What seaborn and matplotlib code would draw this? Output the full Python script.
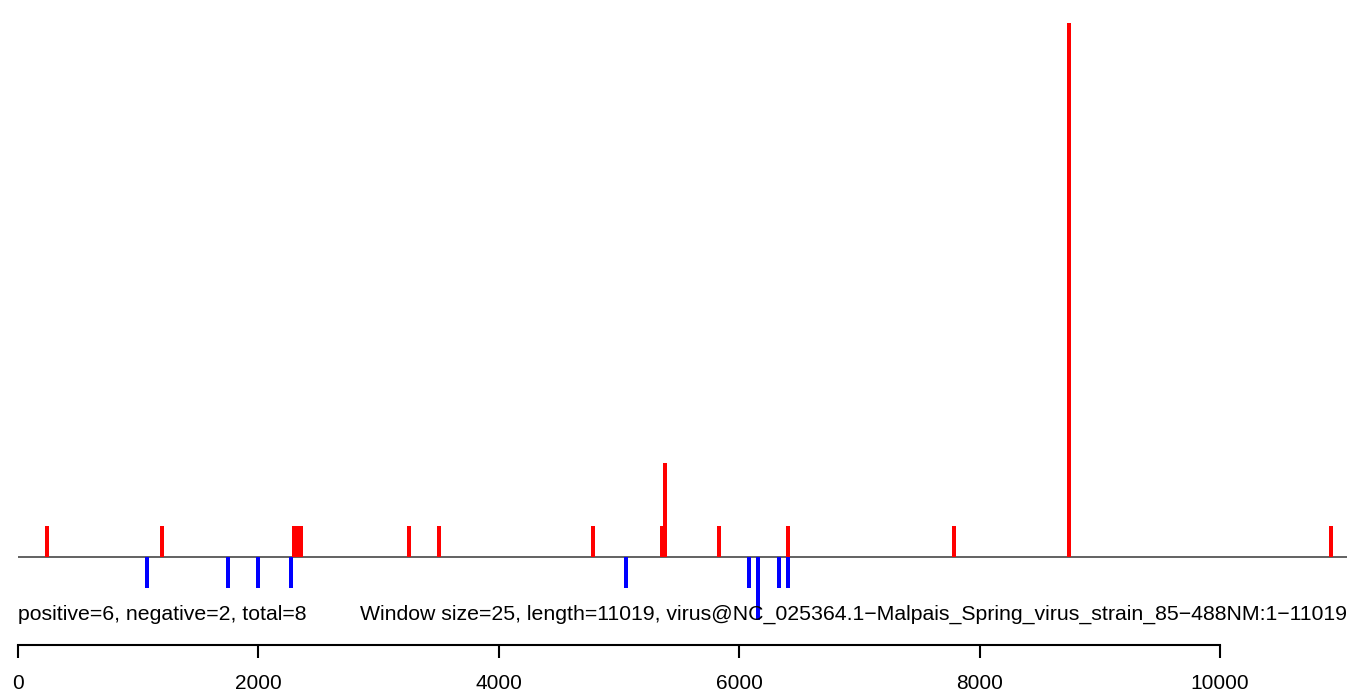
import matplotlib
matplotlib.use("Agg")
import matplotlib.pyplot as plt
import numpy as np
import pandas as pd
import seaborn as sns

# positions along the genome and window scores
pos_sites = [241, 1196, 2295, 2325, 2355, 3250, 3500, 4784, 5355, 5385, 5830, 6405, 7784, 8742, 10922]
pos_scores = [1, 1, 1, 1, 1, 1, 1, 1, 1, 3, 1, 1, 1, 17, 1]
neg_sites = [1071, 1747, 1994, 2268, 5055, 6082, 6154, 6331, 6405]
neg_scores = [-1, -1, -1, -1, -1, -1, -2, -1, -1]
tick_values = [0, 2000, 4000, 6000, 8000, 10000]

left_note = "positive=6, negative=2, total=8"
right_note = ("Window size=25, length=11019, "
              "virus@NC_025364.1\u2212Malpais_Spring_virus_strain_85\u2212488NM:1\u221211019")

df = pd.DataFrame({
    "site": pos_sites + neg_sites,
    "score": pos_scores + neg_scores,
    "strand": ["+"] * len(pos_sites) + ["-"] * len(neg_sites),
})

sns.set_theme(style="white")
plt.rcParams["font.family"] = ["Liberation Sans", "DejaVu Sans"]
plt.rcParams["text.color"] = "black"
plt.rcParams["xtick.color"] = "black"

W, H = 1350, 695
fig = plt.figure(figsize=(W / 100, H / 100), dpi=100)
ax = fig.add_axes([18 / W, 0, 1329 / W, 1])

# bar width in sequence units, converted to seaborn's native width unit
bar_w = 33
min_gap = np.diff(np.unique(df["site"])).min()
sns.barplot(data=df, x="site", y="score", hue="strand", native_scale=True,
            palette={"+": "#ff0000", "-": "#0000ff"}, saturation=1,
            width=bar_w / min_gap, dodge=False, errorbar=None,
            linewidth=0, legend=False, ax=ax)

ax.axhline(0, color="#555555", lw=1.3, zorder=0)

base_px, unit_px = 557, 31.4
ax.set_xlim(0, 11057)
ax.set_ylim(-(H - base_px) / unit_px, base_px / unit_px)

# R-style bottom axis
for s in ["top", "left", "right"]:
    ax.spines[s].set_visible(False)
ax.spines["bottom"].set_position(("data", -(645 - base_px) / unit_px))
ax.spines["bottom"].set_bounds(0, 10000)
ax.spines["bottom"].set_color("black")
ax.spines["bottom"].set_linewidth(1.5)
ax.set_xticks(tick_values)
ax.set_xticklabels([str(t) for t in tick_values])
ax.set_yticks([])
ax.tick_params(axis="x", direction="out", length=9, width=1.5, color="black",
               labelcolor="black", labelsize=15, pad=12, bottom=True)
ax.set_xlabel("")
ax.set_ylabel("")

note_y = -(614 - base_px) / unit_px
ax.text(0, note_y, left_note, ha="left", va="center", fontsize=15.3, color="black")
ax.text(1.0, note_y, right_note, ha="right", va="center", fontsize=15.3, color="black",
        transform=ax.get_yaxis_transform())

fig.savefig("out.png", dpi=100)
